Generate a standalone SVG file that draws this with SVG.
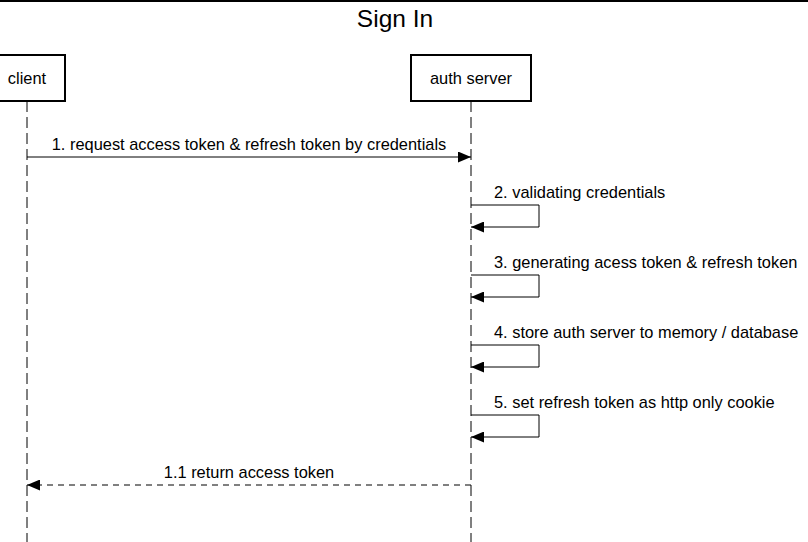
<svg xmlns="http://www.w3.org/2000/svg" width="808" height="542" viewBox="0 0 808 542">
<style>
text{font-family:"Liberation Sans",Arial,sans-serif;fill:#000}
.lbl{font-size:16.4px}
.box{fill:#fff;stroke:#000;stroke-width:2}
.life{stroke:#000;stroke-width:1;stroke-dasharray:11 5;fill:none}
.msg{stroke:#000;stroke-width:1;fill:none}
.ret{stroke:#000;stroke-width:1;fill:none;stroke-dasharray:6 5}
</style>
<defs>
<marker id="ah" markerWidth="13" markerHeight="11" refX="13" refY="5.5" orient="auto" markerUnits="userSpaceOnUse">
<path d="M0,0 L13,5.5 L0,11 z" fill="#000"/>
</marker>
</defs>
<rect width="808" height="542" fill="#fff"/>
<line x1="0" y1="1" x2="808" y2="1" stroke="#000" stroke-width="2"/>
<text x="395" y="27" font-size="24.5" text-anchor="middle">Sign In</text>
<g id="lifelines">
<line class="life" x1="27" y1="101" x2="27" y2="542"/>
<line class="life" x1="471" y1="101" x2="471" y2="542"/>
</g>
<g id="client">
<rect class="box" x="-11" y="55" width="76" height="46"/>
<text class="lbl" x="27" y="84" text-anchor="middle">client</text>
</g>
<g id="auth-server">
<rect class="box" x="411" y="55" width="120" height="46"/>
<text class="lbl" x="471" y="84" text-anchor="middle">auth server</text>
</g>
<g id="connectors">
<line class="msg" x1="27" y1="157" x2="471" y2="157" marker-end="url(#ah)"/>
<path class="msg" d="M471,205 H539 V227 H471" marker-end="url(#ah)"/>
<path class="msg" d="M471,275 H539 V297 H471" marker-end="url(#ah)"/>
<path class="msg" d="M471,345 H539 V367 H471" marker-end="url(#ah)"/>
<path class="msg" d="M471,415 H539 V437 H471" marker-end="url(#ah)"/>
<line class="ret" x1="471" y1="485" x2="27" y2="485" marker-end="url(#ah)"/>
</g>
<g id="labels">
<text class="lbl" x="249" y="150" text-anchor="middle">1. request access token &amp; refresh token by credentials</text>
<text class="lbl" x="494" y="198">2. validating credentials</text>
<text class="lbl" x="494" y="268">3. generating acess token &amp; refresh token</text>
<text class="lbl" x="494" y="338">4. store auth server to memory / database</text>
<text class="lbl" x="494" y="408">5. set refresh token as http only cookie</text>
<text class="lbl" x="249" y="478" text-anchor="middle">1.1 return access token</text>
</g>
</svg>
